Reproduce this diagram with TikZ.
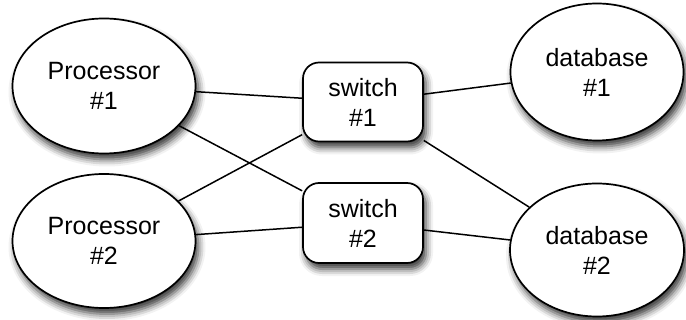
\documentclass[tikz,border=0pt]{standalone}
\usepackage{fontspec}
\setmainfont{Liberation Sans}
\usetikzlibrary{shapes.geometric,shadows.blur}
\begin{document}
\begin{tikzpicture}[x=1pt,y=-1pt,
  shad/.style={blur shadow={shadow xshift=3pt,shadow yshift=-6pt,shadow blur radius=7pt,shadow opacity=80}},
  ell/.style={ellipse,draw,line width=1.7pt,fill=white,inner sep=0pt,align=center,
    font=\fontsize{25}{30}\selectfont,shad},
  sw/.style={rectangle,rounded corners=16pt,draw,line width=1.7pt,fill=white,inner sep=0pt,
    minimum width=120pt,minimum height=79pt,align=center,font=\fontsize{25}{30}\selectfont,shad},
  link/.style={line width=1.5pt}]
\useasboundingbox (0,0) rectangle (686,320);
\node[ell,minimum width=183pt,minimum height=135pt] (p1) at (104,86) {Processor\\\#1};
\node[ell,minimum width=183pt,minimum height=134pt] (p2) at (104,241) {Processor\\\#2};
\node[ell,minimum width=173pt,minimum height=137pt] (d1) at (597,72) {database\\\#1};
\node[ell,minimum width=174pt,minimum height=133pt] (d2) at (597,250) {database\\\#2};
\node[sw] (s1) at (363,102) {switch\\\#1};
\node[sw,minimum height=80pt] (s2) at (363,223) {switch\\\#2};
\draw[link] (p1) -- (s1);
\draw[link] (p1) -- (s2);
\draw[link] (p2) -- (s1);
\draw[link] (p2) -- (s2);
\draw[link] (s1) -- (d1);
\draw[link] (s1) -- (d2);
\draw[link] (s2) -- (d2);
\end{tikzpicture}
\end{document}
